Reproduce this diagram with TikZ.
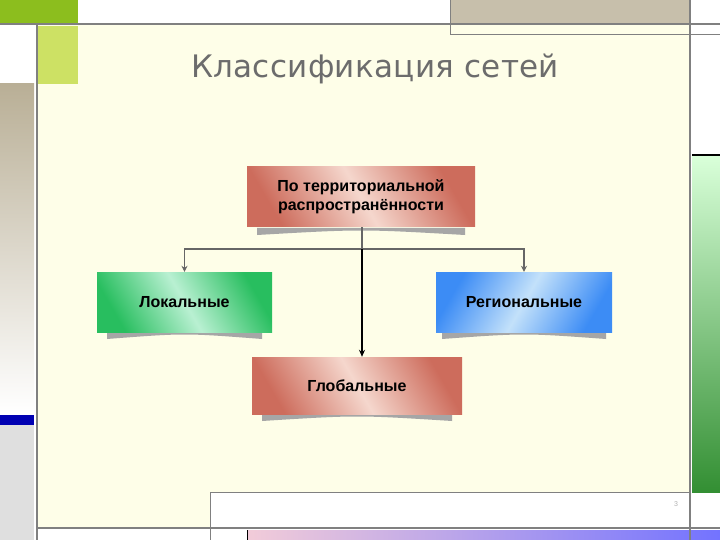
\documentclass[tikz,border=0pt]{standalone}
\usepackage{fontspec}
\usetikzlibrary{arrows.meta}
\setmainfont{Liberation Sans}
\newfontfamily\titlefont{DejaVu Sans}[FakeStretch=1.0]
\definecolor{redE}{RGB}{205,108,92}
\definecolor{redM}{RGB}{245,215,205}
\definecolor{grnE}{RGB}{40,190,95}
\definecolor{grnM}{RGB}{185,240,210}
\definecolor{bluE}{RGB}{60,140,245}
\definecolor{bluM}{RGB}{195,225,250}
\definecolor{dgreen}{RGB}{140,190,30}
\definecolor{lgreen}{RGB}{205,225,100}
\definecolor{tan}{RGB}{185,175,150}
\definecolor{cream}{RGB}{254,254,232}
\begin{document}
\begin{tikzpicture}[x=1pt,y=-1pt,
  bx/.style={minimum width=#1, minimum height=60pt, font=\bfseries\fontsize{16}{19}\selectfont, align=center, inner sep=0pt},
  redbox/.style={left color=redE, right color=redE, middle color=redM, shading angle=-60},
  conn/.style={draw=gray!80!black, line width=1.3pt, -{Stealth[length=6pt,width=6pt]}},
  shad/.style={fill=gray!70}]
\useasboundingbox (0,0) rectangle (720,540);
\fill[white] (0,0) rectangle (720,540);
\fill[cream] (37,24) rectangle (690,528);
\fill[dgreen] (0,0) rectangle (78,23);
\fill[lgreen] (37,26) rectangle (78,84);
\shade[top color=tan, bottom color=white] (0,84) rectangle (34,413);
\fill[blue!70!black] (0,415) rectangle (34,425);
\fill[gray!25] (0,425) rectangle (34,540);
\fill[tan!80] (450,0) rectangle (690,24);
\draw[gray, line width=1pt] (450,0) -- (450,35) -- (720,35);
\draw[black, line width=1.5pt] (692,155) -- (720,155);
\shade[top color=green!15!white, bottom color=green!45!black!80] (692,157) rectangle (720,492);
\fill[white] (210,492) rectangle (690,528);
\draw[gray, line width=1pt] (210,540) -- (210,492) -- (690,492);
\shade[left color=purple!20!white, right color=blue!55] (247,530) rectangle (720,540);
\draw[black, line width=0.5pt] (247,530) -- (247,540);
\draw[gray, line width=2pt] (0,24) -- (720,24);
\draw[gray, line width=2pt] (37,24) -- (37,540);
\draw[gray, line width=2pt] (690,0) -- (690,540);
\draw[gray, line width=2pt] (37,528) -- (720,528);
\node[text=gray!60, font=\fontsize{7}{8}\selectfont] (pg) at (676,504) {3};
\node[text=gray!85!black, font=\titlefont\fontsize{31}{36}\selectfont\addfontfeatures{LetterSpace=1}] (title) at (375,69) {Классификация сетей};
\foreach \a/\b/\c in {257/465/228, 107/262/332, 442/606/332, 262/452/414}{
  \fill[shad] (\a,\c) -- (\b,\c) -- (\b,\c+7) .. controls ({(\a+\b)/2},\c+1) .. (\a,\c+7) -- cycle;}
\node[bx=228pt, redbox] (top) at (361,197) {По территориальной\\распространённости};
\node[bx=175pt, left color=grnE, right color=grnE, middle color=grnM, shading angle=-60] (loc) at (184.5,302) {Локальные};
\node[bx=176pt, left color=bluE, right color=bluE, middle color=bluM, shading angle=60] (reg) at (524,302) {Региональные};
\node[bx=210pt, minimum height=57pt, redbox] (glob) at (357,385.5) {Глобальные};
\coordinate (j) at (362,249);
\draw[gray!80!black, line width=1.3pt] (top.south -| j) -- (j);
\draw[conn] (j) -| (loc.north);
\draw[conn] (j) -| (reg.north);
\draw[black, line width=1.6pt, -{Stealth[length=7pt,width=6pt]}] (j) -- (j |- glob.north);
\end{tikzpicture}
\end{document}
